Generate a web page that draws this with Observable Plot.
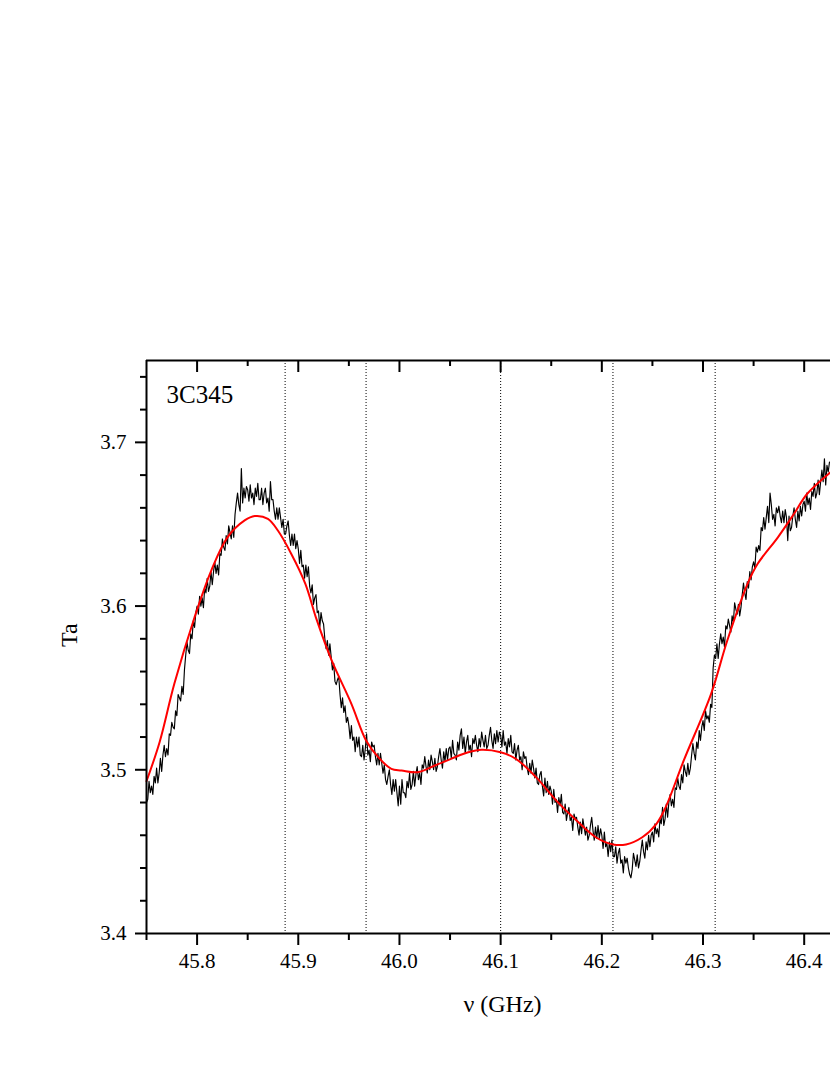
<!DOCTYPE html>
<html><head><meta charset="utf-8">
<script src="https://cdn.jsdelivr.net/npm/d3@7"></script>
<script src="https://cdn.jsdelivr.net/npm/@observablehq/plot@0.6"></script>
<style>
body{margin:0;background:#fff}
g[aria-label$="tick label"]{font-size:21px}
</style>
</head><body><div id="chart"></div>
<script>
const sourceLabel = "3C345";
const xTitle = "ν (GHz)";
const yTitle = "Ta";
// spectrum channels: start frequency and channel spacing (GHz)
const channelStart = 45.75;
const channelStep = 0.00125;
const spectrumTa = [
 3.480, 3.482, 3.493, 3.486, 3.490, 3.485, 3.496, 3.492, 3.501, 3.492,
 3.498, 3.507, 3.499, 3.509, 3.515, 3.508, 3.513, 3.509, 3.522, 3.521,
 3.529, 3.526, 3.525, 3.536, 3.533, 3.546, 3.544, 3.542, 3.551, 3.546,
 3.561, 3.570, 3.578, 3.573, 3.571, 3.583, 3.580, 3.591, 3.587, 3.596,
 3.600, 3.595, 3.606, 3.600, 3.605, 3.599, 3.611, 3.608, 3.617, 3.609,
 3.612, 3.621, 3.613, 3.621, 3.627, 3.620, 3.625, 3.619, 3.632, 3.631,
 3.641, 3.636, 3.634, 3.643, 3.638, 3.649, 3.645, 3.641, 3.649, 3.642,
 3.656, 3.663, 3.669, 3.662, 3.658, 3.684, 3.663, 3.672, 3.666, 3.673,
 3.671, 3.664, 3.674, 3.666, 3.669, 3.662, 3.672, 3.667, 3.675, 3.665,
 3.665, 3.672, 3.662, 3.669, 3.672, 3.663, 3.666, 3.658, 3.676, 3.665,
 3.665, 3.658, 3.653, 3.660, 3.653, 3.660, 3.654, 3.648, 3.653, 3.644,
 3.644, 3.649, 3.652, 3.643, 3.637, 3.644, 3.637, 3.644, 3.635, 3.640,
 3.635, 3.626, 3.634, 3.624, 3.625, 3.617, 3.625, 3.618, 3.624, 3.612,
 3.608, 3.613, 3.601, 3.605, 3.607, 3.596, 3.597, 3.587, 3.596, 3.591,
 3.589, 3.580, 3.574, 3.579, 3.570, 3.577, 3.569, 3.561, 3.565, 3.554,
 3.552, 3.555, 3.557, 3.546, 3.538, 3.544, 3.535, 3.539, 3.529, 3.532,
 3.527, 3.519, 3.527, 3.518, 3.520, 3.511, 3.520, 3.514, 3.520, 3.509,
 3.508, 3.515, 3.506, 3.513, 3.522, 3.509, 3.512, 3.505, 3.517, 3.514,
 3.515, 3.508, 3.503, 3.510, 3.503, 3.510, 3.504, 3.498, 3.503, 3.494,
 3.491, 3.496, 3.500, 3.491, 3.485, 3.494, 3.487, 3.494, 3.486, 3.478,
 3.490, 3.479, 3.494, 3.486, 3.486, 3.483, 3.493, 3.489, 3.498, 3.488,
 3.491, 3.499, 3.490, 3.497, 3.502, 3.494, 3.498, 3.491, 3.503, 3.501,
 3.508, 3.502, 3.498, 3.506, 3.500, 3.509, 3.505, 3.500, 3.507, 3.499,
 3.502, 3.508, 3.513, 3.506, 3.501, 3.511, 3.505, 3.513, 3.506, 3.513,
 3.514, 3.507, 3.518, 3.510, 3.509, 3.506, 3.517, 3.512, 3.521, 3.525,
 3.513, 3.520, 3.510, 3.517, 3.521, 3.512, 3.515, 3.508, 3.519, 3.516,
 3.521, 3.515, 3.511, 3.519, 3.514, 3.523, 3.518, 3.514, 3.521, 3.513,
 3.515, 3.521, 3.526, 3.518, 3.513, 3.522, 3.516, 3.524, 3.517, 3.523,
 3.521, 3.514, 3.524, 3.515, 3.517, 3.510, 3.519, 3.514, 3.521, 3.511,
 3.510, 3.516, 3.506, 3.512, 3.515, 3.506, 3.508, 3.500, 3.511, 3.507,
 3.508, 3.501, 3.497, 3.504, 3.498, 3.506, 3.501, 3.495, 3.501, 3.492,
 3.491, 3.497, 3.499, 3.490, 3.484, 3.495, 3.486, 3.493, 3.485, 3.490,
 3.487, 3.479, 3.488, 3.480, 3.482, 3.474, 3.483, 3.478, 3.485, 3.474,
 3.473, 3.479, 3.469, 3.474, 3.477, 3.469, 3.471, 3.463, 3.473, 3.470,
 3.471, 3.465, 3.460, 3.468, 3.461, 3.470, 3.465, 3.460, 3.465, 3.457,
 3.460, 3.466, 3.471, 3.463, 3.457, 3.465, 3.458, 3.466, 3.458, 3.464,
 3.460, 3.452, 3.462, 3.453, 3.455, 3.447, 3.456, 3.450, 3.457, 3.447,
 3.447, 3.453, 3.443, 3.449, 3.452, 3.443, 3.445, 3.437, 3.447, 3.443,
 3.446, 3.440, 3.436, 3.434, 3.439, 3.449, 3.445, 3.441, 3.448, 3.440,
 3.444, 3.451, 3.457, 3.450, 3.446, 3.456, 3.451, 3.460, 3.453, 3.460,
 3.462, 3.456, 3.467, 3.461, 3.464, 3.459, 3.470, 3.467, 3.477, 3.466,
 3.470, 3.479, 3.471, 3.480, 3.485, 3.478, 3.482, 3.477, 3.489, 3.488,
 3.495, 3.490, 3.488, 3.497, 3.492, 3.503, 3.499, 3.496, 3.504, 3.497,
 3.501, 3.509, 3.516, 3.510, 3.506, 3.517, 3.513, 3.524, 3.518, 3.526,
 3.530, 3.524, 3.536, 3.531, 3.533, 3.529, 3.540, 3.538, 3.562, 3.570,
 3.568, 3.577, 3.568, 3.577, 3.583, 3.577, 3.581, 3.575, 3.588, 3.586,
 3.592, 3.588, 3.584, 3.594, 3.590, 3.602, 3.598, 3.595, 3.601, 3.594,
 3.599, 3.607, 3.614, 3.608, 3.604, 3.615, 3.611, 3.621, 3.616, 3.624,
 3.627, 3.623, 3.636, 3.633, 3.637, 3.634, 3.648, 3.646, 3.654, 3.647,
 3.654, 3.661, 3.651, 3.669, 3.662, 3.653, 3.656, 3.649, 3.660, 3.657,
 3.661, 3.655, 3.651, 3.658, 3.651, 3.659, 3.654, 3.640, 3.655, 3.646,
 3.648, 3.655, 3.660, 3.653, 3.648, 3.658, 3.652, 3.661, 3.655, 3.662,
 3.664, 3.658, 3.669, 3.662, 3.666, 3.659, 3.670, 3.667, 3.675, 3.666,
 3.669, 3.677, 3.668, 3.676, 3.683, 3.676, 3.690, 3.674, 3.686, 3.682,
 3.688
];
// fitted baseline (red)
const fitNu = [45.750, 45.763, 45.7775, 45.7975, 45.814, 45.830, 45.847, 45.857, 45.870, 45.880, 45.893, 45.907, 45.918, 45.933, 45.9525, 45.967, 45.979, 45.992, 46.002, 46.018, 46.035, 46.051, 46.068, 46.081, 46.100, 46.115, 46.135, 46.155, 46.175, 46.194, 46.211, 46.224, 46.240, 46.254, 46.263, 46.281, 46.308, 46.324, 46.344, 46.354, 46.374, 46.390, 46.403, 46.426];
const fitTa = [3.493, 3.517, 3.5525, 3.5932, 3.6217, 3.642, 3.6523, 3.655, 3.6533, 3.646, 3.632, 3.6136, 3.592, 3.5668, 3.5403, 3.5179, 3.5077, 3.5006, 3.4996, 3.4985, 3.5026, 3.5067, 3.5107, 3.5122, 3.5107, 3.5067, 3.4955, 3.4812, 3.469, 3.4588, 3.4544, 3.4544, 3.4588, 3.467, 3.477, 3.5057, 3.5464, 3.579, 3.6136, 3.6258, 3.642, 3.6564, 3.6686, 3.6818];
// dotted marker lines (GHz)
const markerNu = [45.887, 45.967, 46.1, 46.211, 46.312];
// ticks
const xMajorTicks = [45.8, 45.9, 46.0, 46.1, 46.2, 46.3, 46.4];
const xMinorTicks = [45.75, 45.85, 45.95, 46.05, 46.15, 46.25, 46.35];
const yMajorTicks = [3.4, 3.5, 3.6, 3.7];
const yMinorTicks = [3.42, 3.44, 3.46, 3.48, 3.52, 3.54, 3.56, 3.58, 3.62, 3.64, 3.66, 3.68, 3.72, 3.74];
const xDomain = [45.75, 46.426];
const yDomain = [3.4, 3.75];

const spectrum = spectrumTa.map((t, i) => ({nu: channelStart + i * channelStep, ta: t}));
const fit = fitNu.map((n, i) => ({nu: n, ta: fitTa[i]}));

const H = 1075, MT = 360, MB = 142;
const innerH = H - MT - MB;

const chart = Plot.plot({
  width: 830, height: H,
  marginTop: MT, marginBottom: MB, marginLeft: 146, marginRight: 0,
  style: {fontFamily: "'Liberation Serif', 'Times New Roman', serif", fontSize: "20px", color: "black", background: "white"},
  x: {domain: xDomain, label: null},
  y: {domain: yDomain, label: null},
  marks: [
    Plot.ruleX(markerNu, {x: d => d, stroke: "black", strokeWidth: 1, strokeDasharray: "1,2"}),
    Plot.line(spectrum, {x: "nu", y: "ta", stroke: "black", strokeWidth: 1.15}),
    Plot.line(fit, {x: "nu", y: "ta", stroke: "red", strokeWidth: 2, curve: "catmull-rom"}),
    // bottom axis
    Plot.axisX(xMinorTicks, {anchor: "bottom", tickSize: 7, strokeWidth: 2, tickFormat: () => "", label: null}),
    Plot.axisX(xMajorTicks, {anchor: "bottom", tickSize: 12, tickPadding: 8, strokeWidth: 2, fontSize: 21, tickFormat: d => d.toFixed(1), label: null}),
    // left axis
    Plot.axisY(yMinorTicks, {anchor: "left", tickSize: 6, strokeWidth: 2, tickFormat: () => "", label: null}),
    Plot.axisY(yMajorTicks, {anchor: "left", tickSize: 11, tickPadding: 9, strokeWidth: 2, fontSize: 21, tickFormat: d => d.toFixed(1), label: null}),
    // top inward ticks
    Plot.tickX(xMajorTicks, {x: d => d, insetBottom: innerH - 12, strokeWidth: 2}),
    Plot.tickX(xMinorTicks.slice(1), {x: d => d, insetBottom: innerH - 6, strokeWidth: 2}),
    // frame
    Plot.ruleY([yDomain[0], yDomain[1]], {y: d => d, stroke: "black", strokeWidth: 2}),
    Plot.ruleX([xDomain[0]], {x: d => d, stroke: "black", strokeWidth: 2}),
    // titles
    Plot.text([xTitle], {frameAnchor: "bottom", text: d => d, dx: 14, dy: 78, fontSize: 24}),
    Plot.text([yTitle], {frameAnchor: "left", text: d => d, dx: -77, dy: 0, rotate: -90, fontSize: 24}),
    Plot.text([sourceLabel], {frameAnchor: "top-left", text: d => d, dx: 20, dy: 34, lineAnchor: "middle", textAnchor: "start", fontSize: 25})
  ]
});
document.getElementById("chart").appendChild(chart);
</script>
</body></html>
